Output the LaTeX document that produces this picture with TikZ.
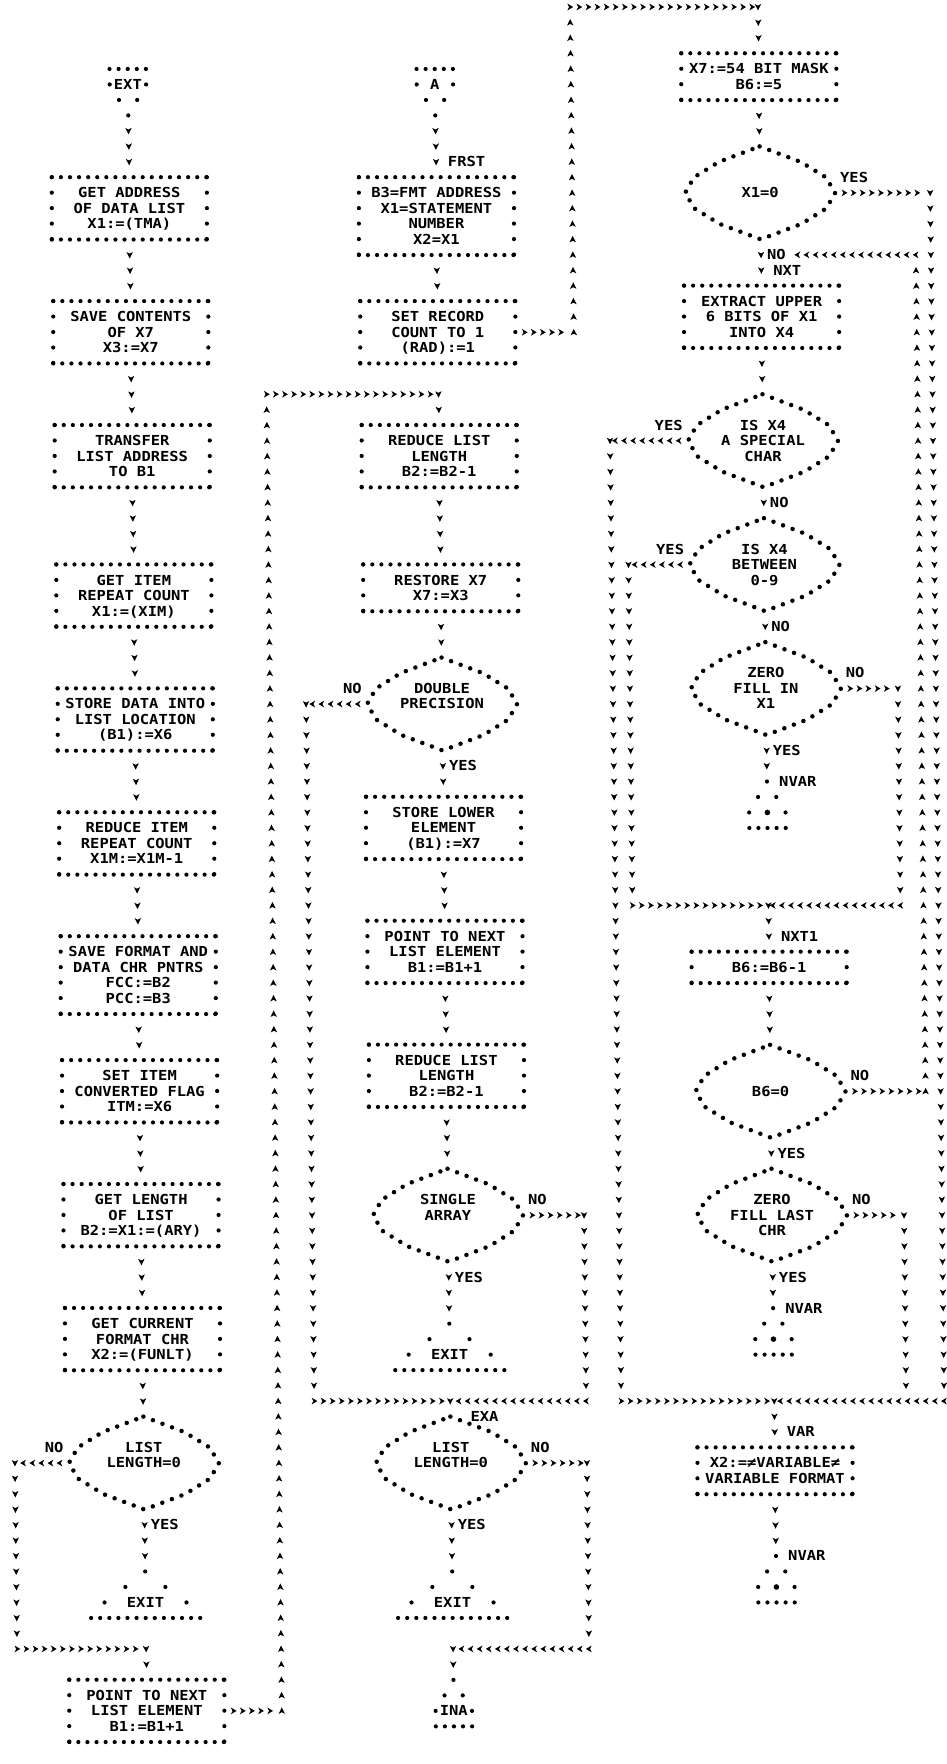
\documentclass[tikz,border=0pt]{standalone}
\usepackage{fontspec}
\newfontfamily\lpfam{DejaVu Sans Mono}[FakeStretch=1.12]
\usetikzlibrary{decorations.markings}
\newcommand\lpf{\lpfam\bfseries\fontsize{13.8pt}{15.49pt}\selectfont}
\newcommand\rs{\rule[-2.85pt]{0pt}{15.49pt}}
\newcommand\hmark{\fill (-2.6pt,-3.4pt) -- (3.2pt,0pt) -- (-2.6pt,3.4pt) -- (-0.9pt,0pt) -- cycle;}
\newcommand\vmark{\fill (-3pt,-3.2pt) -- (3.5pt,0pt) -- (-3pt,3.2pt) -- (-1.4pt,0pt) -- cycle;}
\tikzset{
 dotH/.style={line width=4.2pt, line cap=round, dash pattern=on 0pt off 9.09pt},
 dotV/.style={line width=4.2pt, line cap=round, dash pattern=on 0pt off 15.47pt},
 dotD/.style={line width=4.5pt, line cap=round, dash pattern=on 0pt off 10.2pt},
 boxn/.style={rectangle, inner sep=0pt, minimum width=154.7pt, font=\lpf, align=center},
 txt/.style={inner sep=0pt, font=\lpf, align=center},
 hconn/.style={decorate, decoration={markings, mark=between positions 9.1pt and -4pt step 9.1pt with {\hmark}}},
 hconnc/.style={decorate, decoration={markings, mark=between positions 0pt and -4pt step 9.1pt with {\hmark}}},
 vconn/.style={decorate, decoration={markings, mark=between positions 15.49pt and -7pt step 15.49pt with {\vmark}}},
 vconnc/.style={decorate, decoration={markings, mark=between positions 0pt and -7pt step 15.49pt with {\vmark}}},
}
% box: name, cx, top row, number of lines, text
\newcommand\PBox[5]{%
  \node[boxn, minimum height={(#4+1)*15.49pt}] (#1) at (#2,{#3+(#4+1)/2}) {#5};
  \draw[dotH] (#1.north west) -- (#1.north east);
  \draw[dotH] (#1.south west) -- (#1.south east);
  \draw[dotV] (#1.north west) -- (#1.south west);
  \draw[dotV] (#1.north east) -- (#1.south east);
}
% decision: name, cx, centre row, text row, text
\newcommand\PDia[5]{%
  \node[txt] (#1) at (#2,#4) {#5};
  \coordinate (#1-n) at (#2,#3-3);
  \coordinate (#1-s) at (#2,#3+3);
  \coordinate (#1-w) at (#2-75,#3);
  \coordinate (#1-e) at (#2+75,#3);
  \draw[dotD] (#1-n) -- (#2+41,#3-2) -- (#2+66,#3-1) -- (#1-e) -- (#2+66,#3+1) -- (#2+41,#3+2) -- (#1-s) -- (#2-41,#3+2) -- (#2-66,#3+1) -- (#1-w) -- (#2-66,#3-1) -- (#2-41,#3-2) -- cycle;
}
% top terminal: name, cx, top row, label
\newcommand\PTermT[4]{%
  \draw[dotH] (#2-18.2,#3) -- (#2+18.2,#3);
  \node[txt] (#1) at (#2,#3+1) {\rs #4};
  \fill (#2-18.2,#3+1) circle (2.1pt); \fill (#2+18.2,#3+1) circle (2.1pt);
  \fill (#2-9.1,#3+2) circle (2.1pt); \fill (#2+9.1,#3+2) circle (2.1pt);
  \fill (#2,#3+3) circle (2.1pt);
  \coordinate (#1-s) at (#2,#3+3);
}
% bottom terminal: name, cx, apex row, label, w1, w2, wb
\newcommand\PTermB[7]{%
  \node[txt] (#1) at (#2,#3+2) {\rs #4};
  \coordinate (#1-n) at (#2,#3);
  \fill (#2,#3) circle (2.1pt);
  \fill (#2-#5,#3+1) circle (2.1pt); \fill (#2+#5,#3+1) circle (2.1pt);
  \fill (#2-#6,#3+2) circle (2.1pt); \fill (#2+#6,#3+2) circle (2.1pt);
  \draw[dotH] (#2-#7,#3+3) -- (#2+#7,#3+3);
}
% connector terminal NVAR: name, cx, apex row
\newcommand\PTermN[3]{%
  \coordinate (#1-n) at (#2,#3);
  \node[txt,anchor=west] (#1) at (#2+12,#3) {\rs NVAR};
  \fill (#2,#3) circle (2.1pt);
  \fill (#2-9.1,#3+1) circle (2.1pt); \fill (#2+9.1,#3+1) circle (2.1pt);
  \fill (#2-18.2,#3+2) circle (2.1pt); \fill (#2+18.2,#3+2) circle (2.1pt);
  \fill (#2,#3+2) circle (2.8pt);
  \draw[dotH] (#2-18.2,#3+3) -- (#2+18.2,#3+3);
}
\begin{document}
\begin{tikzpicture}[x=1pt, y=-15.49pt]
\useasboundingbox (0,-0.452) rectangle (947,113.43);
\fill[white] (0,-0.452) rectangle (947,113.43);
\begin{scope}[xslant=-0.01162]
%================ left column
\PTermT{ext}{127}{4}{EXT}
\PBox{b1}{127}{11}{3}{\rs GET ADDRESS\\\rs OF DATA LIST\\\rs X1:=(TMA)}
\PBox{b2}{127}{19}{3}{\rs SAVE CONTENTS\\\rs OF X7\\\rs X3:=X7}
\PBox{b3}{127}{27}{3}{\rs TRANSFER\\\rs LIST ADDRESS\\\rs TO B1}
\PBox{b4}{127}{36}{3}{\rs GET ITEM\\\rs REPEAT COUNT\\\rs X1:=(XIM)}
\PBox{b5}{127}{44}{3}{\rs STORE DATA INTO\\\rs LIST LOCATION\\\rs (B1):=X6}
\PBox{b6}{127}{52}{3}{\rs REDUCE ITEM\\\rs REPEAT COUNT\\\rs X1M:=X1M-1}
\PBox{b7}{127}{60}{4}{\rs SAVE FORMAT AND\\\rs DATA CHR PNTRS\\\rs FCC:=B2\\\rs PCC:=B3}
\PBox{b8}{127}{68}{3}{\rs SET ITEM\\\rs CONVERTED FLAG\\\rs ITM:=X6}
\PBox{b9}{127}{76}{3}{\rs GET LENGTH\\\rs OF LIST\\\rs B2:=X1:=(ARY)}
\PBox{b10}{127}{84}{3}{\rs GET CURRENT\\\rs FORMAT CHR\\\rs X2:=(FUNLT)}
\PDia{d1}{127}{94}{93.5}{\rs LIST\\\rs LENGTH=0}
\PTermB{ex1}{127}{101}{EXIT}{20}{41}{54.6}
\PBox{b11}{127}{108}{3}{\rs POINT TO NEXT\\\rs LIST ELEMENT\\\rs B1:=B1+1}
\node[txt,anchor=east] (lno1) at (47,93) {\rs NO};
\node[txt,anchor=west] (lyes1) at (133,98) {\rs YES};
%================ middle column
\PTermT{ta}{434}{4}{A}
\node[txt,anchor=west] (lfrst) at (446,10) {\rs FRST};
\PBox{m1}{434}{11}{4}{\rs B3=FMT ADDRESS\\\rs X1=STATEMENT\\\rs NUMBER\\\rs X2=X1}
\PBox{m2}{434}{19}{3}{\rs SET RECORD\\\rs COUNT TO 1\\\rs (RAD):=1}
\PBox{m3}{434}{27}{3}{\rs REDUCE LIST\\\rs LENGTH\\\rs B2:=B2-1}
\PBox{m4}{434}{36}{2}{\rs RESTORE X7\\\rs X7:=X3}
\PDia{md1}{434}{45}{44.5}{\rs DOUBLE\\\rs PRECISION}
\PBox{m5}{434}{51}{3}{\rs STORE LOWER\\\rs ELEMENT\\\rs (B1):=X7}
\PBox{m6}{434}{59}{3}{\rs POINT TO NEXT\\\rs LIST ELEMENT\\\rs B1:=B1+1}
\PBox{m7}{434}{67}{3}{\rs REDUCE LIST\\\rs LENGTH\\\rs B2:=B2-1}
\PDia{md2}{434}{78}{77.5}{\rs SINGLE\\\rs ARRAY}
\PTermB{ex2}{434}{85}{EXIT}{20}{41}{54.6}
\PDia{md3}{434}{94}{93.5}{\rs LIST\\\rs LENGTH=0}
\PTermB{ex3}{434}{101}{EXIT}{20}{41}{54.6}
\PTermB{ina}{434}{108}{INA}{9.1}{18.2}{18.2}
\node[txt,anchor=east] (lno2) at (354,44) {\rs NO};
\node[txt,anchor=west] (lyes2) at (440,49) {\rs YES};
\node[txt,anchor=west] (lno3) at (514,77) {\rs NO};
\node[txt,anchor=west] (lyes3) at (440,82) {\rs YES};
\node[txt,anchor=west] (lexa) at (454,91) {\rs EXA};
\node[txt,anchor=west] (lno4) at (514,93) {\rs NO};
\node[txt,anchor=west] (lyes4) at (440,98) {\rs YES};
%================ right column
\PBox{r1}{758}{3}{2}{\rs X7:=54 BIT MASK\\\rs B6:=5}
\PDia{rd1}{758}{12}{12}{\rs X1=0}
\PBox{r2}{758}{18}{3}{\rs EXTRACT UPPER\\\rs 6 BITS OF X1\\\rs INTO X4}
\PDia{rd2}{758}{28}{28}{\rs IS X4\\\rs A SPECIAL\\\rs CHAR}
\PDia{rd3}{758}{36}{36}{\rs IS X4\\\rs BETWEEN\\\rs 0-9}
\PDia{rd5}{758}{44}{44}{\rs ZERO\\\rs FILL IN\\\rs X1}
\PTermN{nv1}{758}{50}
\PBox{r3}{758}{61}{1}{\rs B6:=B6-1}
\PDia{rd4}{758}{70}{70}{\rs B6=0}
\PDia{rd6}{758}{78}{78}{\rs ZERO\\\rs FILL LAST\\\rs CHR}
\PTermN{nv2}{758}{84}
\PBox{r4}{758}{93}{2}{\rs X2:=≠VARIABLE≠\\\rs VARIABLE FORMAT}
\PTermN{nv3}{758}{100}
\node[txt,anchor=west] (lyes5) at (838,11) {\rs YES};
\node[txt,anchor=west] (lno5) at (764,16) {\rs NO};
\node[txt,anchor=west] (lnxt) at (770,17) {\rs NXT};
\node[txt,anchor=east] (lyes6) at (678,27) {\rs YES};
\node[txt,anchor=west] (lno6) at (764,32) {\rs NO};
\node[txt,anchor=east] (lyes7) at (678,35) {\rs YES};
\node[txt,anchor=west] (lno7) at (764,40) {\rs NO};
\node[txt,anchor=west] (lno8) at (838,43) {\rs NO};
\node[txt,anchor=west] (lyes8) at (764,48) {\rs YES};
\node[txt,anchor=west] (lnxt1) at (770,60) {\rs NXT1};
\node[txt,anchor=west] (lno9) at (838,69) {\rs NO};
\node[txt,anchor=west] (lyes9) at (764,74) {\rs YES};
\node[txt,anchor=west] (lno10) at (838,77) {\rs NO};
\node[txt,anchor=west] (lyes10) at (764,82) {\rs YES};
\node[txt,anchor=west] (lvar) at (770,92) {\rs VAR};
%================ connectors: left
\path[vconn] (ext-s) -- (b1.north);
\path[vconn] (b1.south) -- (b2.north);
\path[vconn] (b2.south) -- (b3.north);
\path[vconn] (b3.south) -- (b4.north);
\path[vconn] (b4.south) -- (b5.north);
\path[vconn] (b5.south) -- (b6.north);
\path[vconn] (b6.south) -- (b7.north);
\path[vconn] (b7.south) -- (b8.north);
\path[vconn] (b8.south) -- (b9.north);
\path[vconn] (b9.south) -- (b10.north);
\path[vconn] (b10.south) -- (d1-n);
\path[vconn] (d1-s) -- (ex1-n);
\coordinate (cL1) at (-2,94); \coordinate (cL2) at (-2,106); \coordinate (cL3) at (127,106);
\path[hconn] (d1-w) -- (cL1);
\path[vconnc] (cL1) -- (cL2);
\path[hconnc] (cL2) -- (cL3);
\path[vconnc] (cL3) -- (b11.north);
\coordinate (cLL1) at (262,110); \coordinate (cLL2) at (262,25); \coordinate (cM25) at (434,25);
\path[hconn] (b11.east) -- (cLL1);
\path[vconnc] (cLL1) -- (cLL2);
\path[hconnc] (cLL2) -- (cM25);
\path[vconnc] (cM25) -- (m3.north);
%================ connectors: middle
\path[vconn] (ta-s) -- (m1.north);
\path[vconn] (m1.south) -- (m2.north);
\coordinate (cT1) at (570,21); \coordinate (cT2) at (570,0); \coordinate (cT3) at (758,0);
\path[hconn] (m2.east) -- (cT1);
\path[vconnc] (cT1) -- (cT2);
\path[hconnc] (cT2) -- (cT3);
\path[vconnc] (cT3) -- (r1.north);
\path[vconn] (m3.south) -- (m4.north);
\path[vconn] (m4.south) -- (md1-n);
\path[vconn] (md1-s) -- (m5.north);
\coordinate (cM1) at (298,45); \coordinate (cM2) at (298,90); \coordinate (cM3) at (434,90);
\path[hconn] (md1-w) -- (cM1);
\path[vconnc] (cM1) -- (cM2);
\path[hconnc] (cM2) -- (cM3);
\path[vconnc] (cM3) -- (md3-n);
\path[vconn] (m5.south) -- (m6.north);
\path[vconn] (m6.south) -- (m7.north);
\path[vconn] (m7.south) -- (md2-n);
\path[vconn] (md2-s) -- (ex2-n);
\coordinate (cM4) at (570,78); \coordinate (cM5) at (570,90);
\path[hconn] (md2-e) -- (cM4);
\path[vconnc] (cM4) -- (cM5);
\path[hconnc] (cM5) -- (cM3);
\path[vconn] (md3-s) -- (ex3-n);
\coordinate (cM6) at (570,94); \coordinate (cM7) at (570,106); \coordinate (cM8) at (434,106);
\path[hconn] (md3-e) -- (cM6);
\path[vconnc] (cM6) -- (cM7);
\path[hconnc] (cM7) -- (cM8);
\path[vconnc] (cM8) -- (ina-n);
%================ connectors: right
\path[vconn] (r1.south) -- (rd1-n);
\path[vconn] (rd1-s) -- (r2.north);
\coordinate (cR1) at (928,12); \coordinate (cR2) at (928,90); \coordinate (cR3) at (758,90);
\path[hconn] (rd1-e) -- (cR1);
\path[vconnc] (cR1) -- (cR2);
\path[hconnc] (cR2) -- (cR3);
\path[vconnc] (cR3) -- (r4.north);
\path[vconn] (r2.south) -- (rd2-n);
\path[vconn] (rd2-s) -- (rd3-n);
\path[vconn] (rd3-s) -- (rd5-n);
\path[vconn] (rd5-s) -- (nv1-n);
\coordinate (cR7) at (605,28); \coordinate (cR8) at (605,90);
\path[hconn] (rd2-w) -- (cR7);
\path[vconnc] (cR7) -- (cR8);
\path[hconnc] (cR8) -- (cR3);
\coordinate (cR9) at (622,36); \coordinate (cR10) at (622,58); \coordinate (cR11) at (758,58);
\path[hconn] (rd3-w) -- (cR9);
\path[vconnc] (cR9) -- (cR10);
\path[hconnc] (cR10) -- (cR11);
\path[vconnc] (cR11) -- (r3.north);
\coordinate (cR12) at (890,44); \coordinate (cR13) at (890,58);
\path[hconn] (rd5-e) -- (cR12);
\path[vconnc] (cR12) -- (cR13);
\path[hconnc] (cR13) -- (cR11);
\path[vconn] (r3.south) -- (rd4-n);
\coordinate (cR4) at (913,70); \coordinate (cR5) at (913,16); \coordinate (cR6) at (790,16);
\path[hconn] (rd4-e) -- (cR4);
\path[vconnc] (cR4) -- (cR5);
\path[hconnc] (cR5) -- (cR6);
\path[vconn] (rd4-s) -- (rd6-n);
\path[vconn] (rd6-s) -- (nv2-n);
\coordinate (cR14) at (890,78); \coordinate (cR15) at (890,90);
\path[hconn] (rd6-e) -- (cR14);
\path[vconnc] (cR14) -- (cR15);
\path[vconn] (r4.south) -- (nv3-n);
\end{scope}
\end{tikzpicture}
\end{document}
